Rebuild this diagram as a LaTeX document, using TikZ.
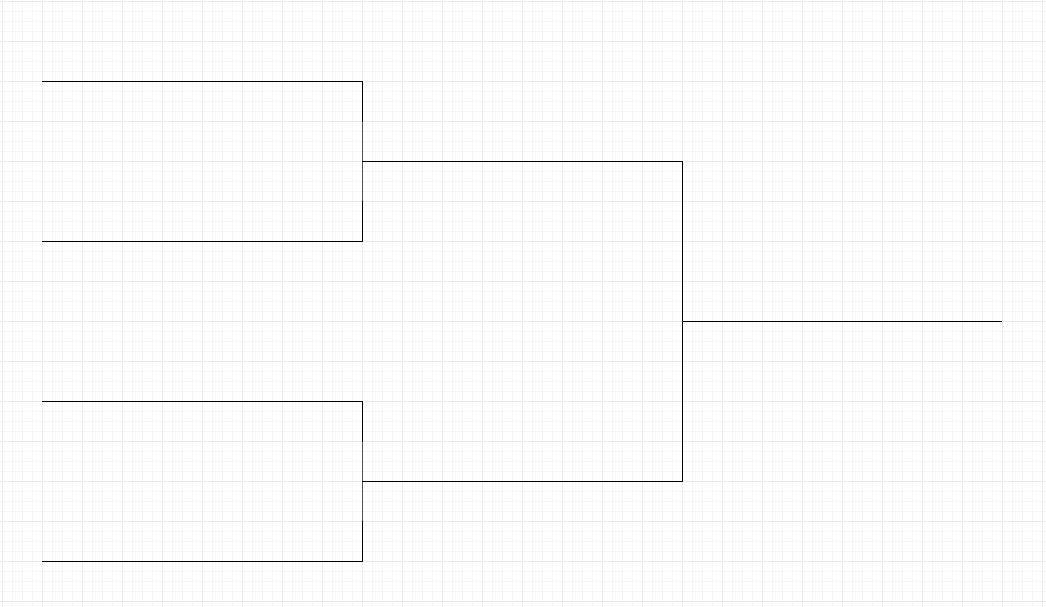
\documentclass[tikz,border=0pt]{standalone}
\usepackage{tikz}
\usetikzlibrary{positioning}

\begin{document}
\begin{tikzpicture}[x=1pt,y=-1pt,
  minorline/.style={draw=black!3,line width=0.8pt},
  majorline/.style={draw=black!8,line width=0.9pt},
  bracket/.style={draw=black,line width=1pt}
]
  \useasboundingbox (0,0) rectangle (1046,606);
  \fill[white] (0,0) rectangle (1046,606);
  % background grid
  \foreach \gx in {2,12,...,1042} \draw[minorline] (\gx,0) -- (\gx,606);
  \foreach \gy in {1,11,...,601} \draw[minorline] (0,\gy) -- (1046,\gy);
  \foreach \gx in {2,42,...,1042} \draw[majorline] (\gx,0) -- (\gx,606);
  \foreach \gy in {1,41,...,601} \draw[majorline] (0,\gy) -- (1046,\gy);
  % slots
  \coordinate (team1) at (42,81);
  \coordinate (team2) at (42,241);
  \coordinate (team3) at (42,401);
  \coordinate (team4) at (42,561);
  \coordinate (semi1) at (362,161);
  \coordinate (semi2) at (362,481);
  \coordinate (final) at (682,321);
  \coordinate (champ) at (1002,321);
  \draw[bracket] (team1) -| (semi1) |- (team2);
  \draw[bracket] (team3) -| (semi2) |- (team4);
  \draw[bracket] (semi1) -| (final) |- (semi2);
  \draw[bracket] (final) -- (champ);
\end{tikzpicture}
\end{document}
